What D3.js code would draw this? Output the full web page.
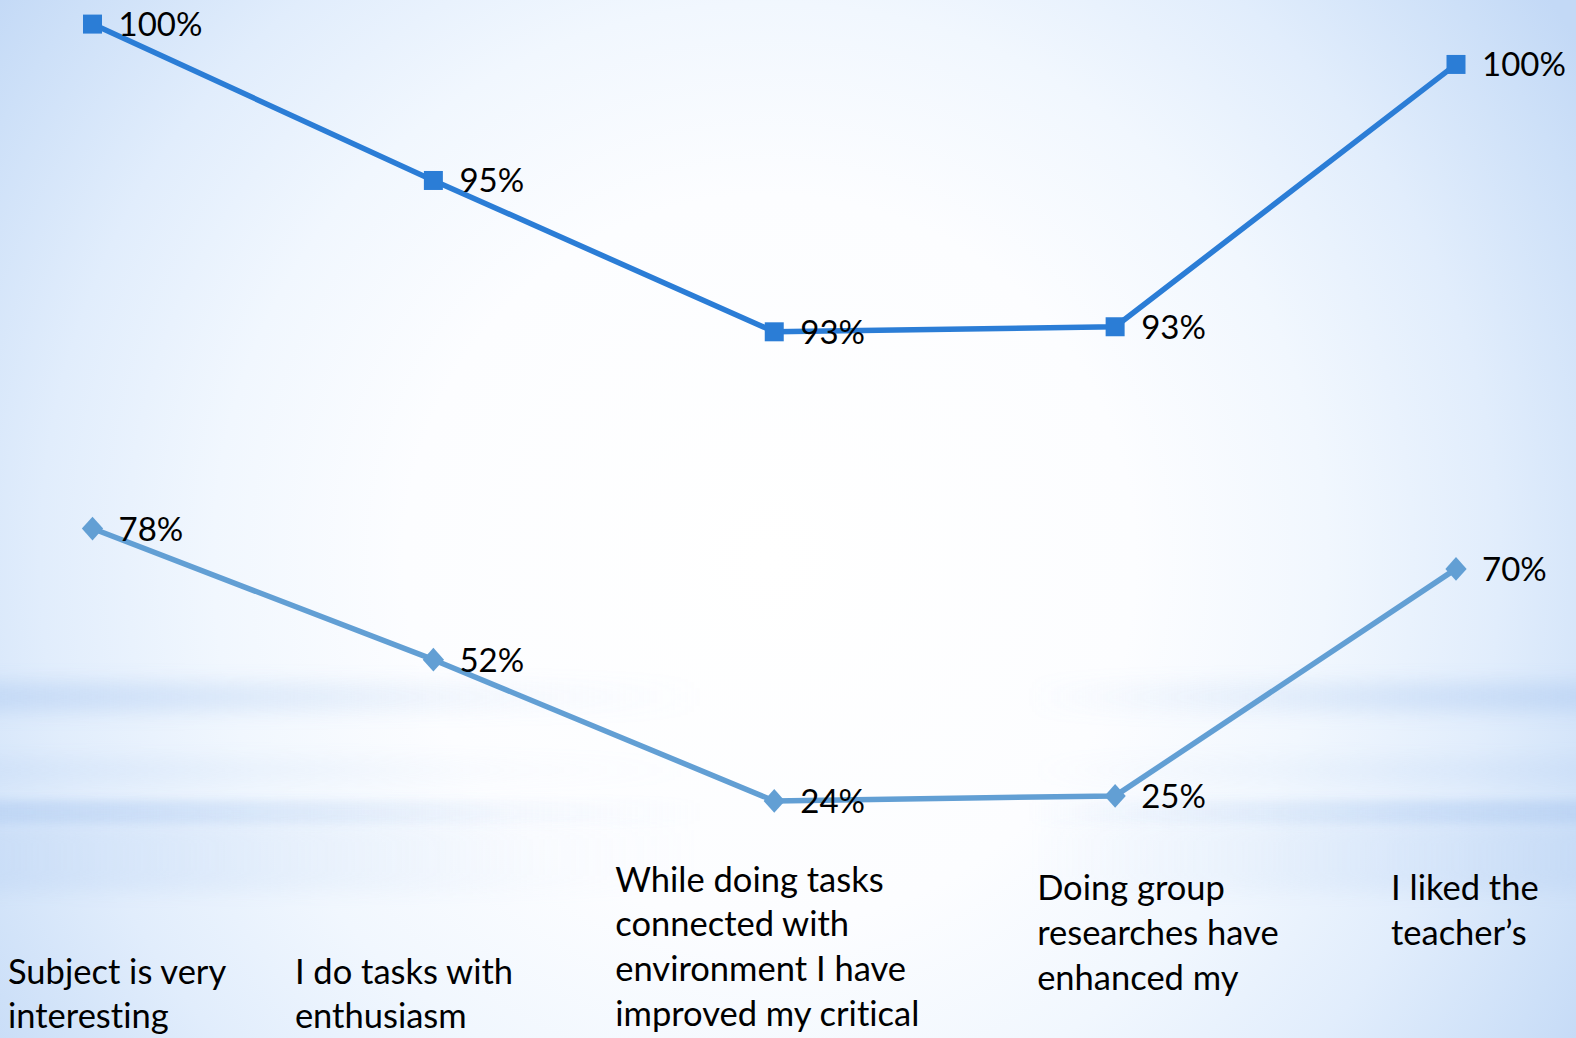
<!DOCTYPE html>
<html>
<head>
<meta charset="utf-8">
<script src="https://cdn.jsdelivr.net/npm/d3@7"></script>
<style>
  html, body { margin: 0; padding: 0; overflow: hidden; background: #f3f8fe; }
  svg { display: block; }
  text { font-family: Lato, "Open Sans", "DejaVu Sans", sans-serif; fill: #000; font-variant-ligatures: none; }
</style>
</head>
<body>
<svg id="chart" width="1576" height="1038"></svg>
<script>
// Survey answers, two stacked series (percent of respondents)
const categories = [
  "Subject is very interesting",
  "I do tasks with enthusiasm",
  "While doing tasks connected with environment I have improved my critical",
  "Doing group researches have enhanced my",
  "I liked the teacher’s"
];
// wrapped lines of each category label, as they appear under the plot
const categoryLines = [
  ["Subject is very", "interesting"],
  ["I do tasks with", "enthusiasm"],
  ["While doing tasks", "connected with", "environment I have", "improved my critical"],
  ["Doing group", "researches have", "enhanced my"],
  ["I liked the", "teacher’s"]
];
const seriesLower = [78, 52, 24, 25, 70];   // light blue, diamonds
const seriesUpper = [100, 95, 93, 93, 100]; // dark blue, squares (stacked on lower)

const W = 1576, H = 1038;
const svg = d3.select("#chart");
const defs = svg.append("defs");

// ---- background: soft radial glow with horizontal light streaks ----
const rg = defs.append("radialGradient").attr("id", "bgGlow")
  .attr("gradientUnits", "userSpaceOnUse")
  .attr("cx", 770).attr("cy", 560).attr("r", 960);
[[0, "#ffffff"], [0.38, "#fcfdff"], [0.58, "#f1f7fe"], [0.76, "#e1edfc"], [0.92, "#cde0f8"], [1, "#c3d9f6"]]
  .forEach(([o, c]) => rg.append("stop").attr("offset", o).attr("stop-color", c));
svg.append("rect").attr("width", W).attr("height", H).attr("fill", "url(#bgGlow)");

const streak = defs.append("linearGradient").attr("id", "streak")
  .attr("x1", 0).attr("x2", 1).attr("y1", 0).attr("y2", 0);
[[0, 0.75], [0.15, 0.45], [0.33, 0.12], [0.45, 0.0], [0.65, 0.0], [0.8, 0.3], [1, 0.8]]
  .forEach(([o, a]) => streak.append("stop").attr("offset", o)
    .attr("stop-color", "#b7d0f3").attr("stop-opacity", a));
defs.append("filter").attr("id", "softV").attr("x", "-5%").attr("y", "-100%")
  .attr("width", "110%").attr("height", "300%")
  .append("feGaussianBlur").attr("stdDeviation", "0 9");
defs.append("filter").attr("id", "softV2").attr("x", "-5%").attr("y", "-100%")
  .attr("width", "110%").attr("height", "300%")
  .append("feGaussianBlur").attr("stdDeviation", "0 4");

const bg = svg.append("g");
bg.append("rect").attr("x", 0).attr("y", 682).attr("width", W).attr("height", 30)
  .attr("fill", "url(#streak)").attr("opacity", 0.8).attr("filter", "url(#softV)");
bg.append("rect").attr("x", 0).attr("y", 758).attr("width", W).attr("height", 24)
  .attr("fill", "url(#streak)").attr("opacity", 0.3).attr("filter", "url(#softV)");
bg.append("rect").attr("x", 0).attr("y", 800).attr("width", W).attr("height", 24)
  .attr("fill", "url(#streak)").attr("opacity", 0.9).attr("filter", "url(#softV2)");
bg.append("rect").attr("x", 0).attr("y", 822).attr("width", W).attr("height", 70)
  .attr("fill", "url(#streak)").attr("opacity", 0.45).attr("filter", "url(#softV)");

// ---- scales ----
const x = d3.scalePoint().domain(categories).range([92.5, 1456]);
const y = d3.scaleLinear().domain([0, 180]).range([922, 14]);

const stacked = categories.map((c, i) => ({
  cat: c, lower: seriesLower[i], upper: seriesUpper[i], top: seriesLower[i] + seriesUpper[i]
}));

const series = [
  { key: "lower", color: "#629fd4", yOf: d => y(d.lower), marker: "diamond" },
  { key: "upper", color: "#2b7dd6", yOf: d => y(d.top), marker: "square" }
];

const line = s => d3.line().x(d => x(d.cat)).y(s.yOf);

series.forEach(s => {
  const g = svg.append("g");
  g.append("path").datum(stacked)
    .attr("d", line(s))
    .attr("fill", "none").attr("stroke", s.color)
    .attr("stroke-width", 5.5).attr("stroke-linejoin", "round");
  const sym = s.marker === "square"
    ? d3.symbol().type(d3.symbolSquare).size(19 * 19)
    : d3.symbol().type(d3.symbolDiamond2).size(400);
  g.selectAll("path.m").data(stacked).join("path").attr("class", "m")
    .attr("d", sym)
    .attr("fill", s.color)
    .attr("transform", d => s.marker === "square"
      ? `translate(${x(d.cat)},${s.yOf(d)})`
      : `translate(${x(d.cat)},${s.yOf(d)}) scale(0.85,0.95)`);
  g.selectAll("text.v").data(stacked).join("text").attr("class", "v")
    .attr("x", d => x(d.cat) + 26)
    .attr("y", d => s.yOf(d) - 1)
    .attr("dominant-baseline", "central")
    .attr("font-size", 33)
    .text(d => d[s.key] + "%");
});

// ---- category labels (left-aligned wrapped blocks) ----
const labelAnchor = [
  { dx: -84.5, y0: 970 },
  { dx: -138.5, y0: 970 },
  { dx: -159, y0: 878 },
  { dx: -78, y0: 886.5 },
  { dx: -65, y0: 886.5 }
];
const lineGap = 44.8;
const cl = svg.append("g");
categories.forEach((c, i) => {
  const t = cl.append("text")
    .attr("x", x(c) + labelAnchor[i].dx)
    .attr("font-size", 34.5);
  categoryLines[i].forEach((ln, j) => {
    t.append("tspan")
      .attr("x", x(c) + labelAnchor[i].dx)
      .attr("y", labelAnchor[i].y0 + j * lineGap)
      .attr("dominant-baseline", "central")
      .text(ln);
  });
});
</script>
</body>
</html>
